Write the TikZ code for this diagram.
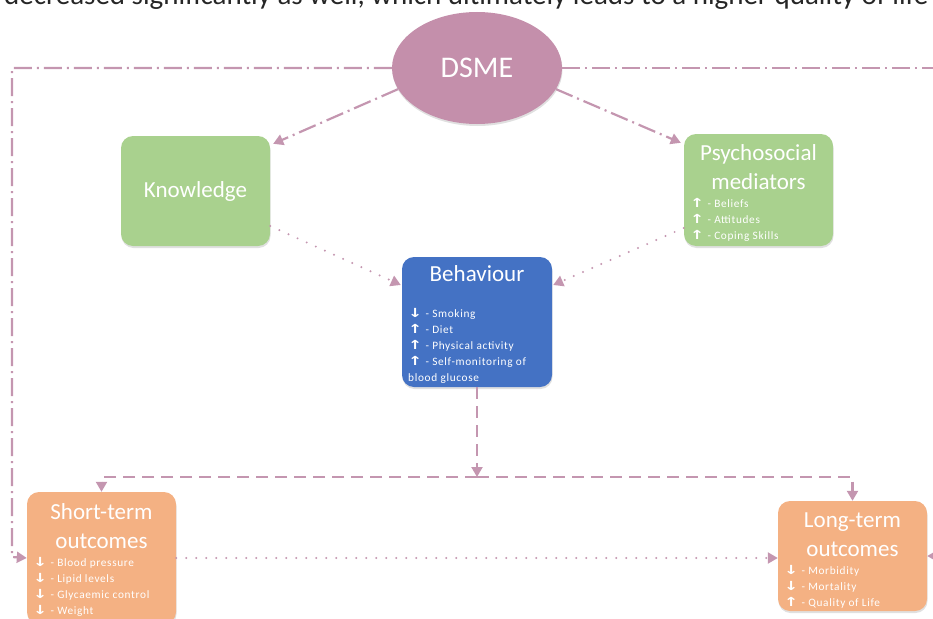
\documentclass[tikz,border=0pt]{standalone}
\usepackage{fontspec}
\usepackage{graphicx}
\setmainfont{Carlito}
\newfontfamily\symfont{DejaVu Sans}
\newfontfamily\itemfont[LetterSpace=6]{Carlito}
\usetikzlibrary{arrows.meta,shapes.geometric,calc,shadows}

\definecolor{conn}{HTML}{C496B0}
\definecolor{dsmefill}{HTML}{C48FAB}
\definecolor{greenbox}{HTML}{A9D18E}
\definecolor{bluebox}{HTML}{4472C4}
\definecolor{orangebox}{HTML}{F4B183}
\definecolor{leadtext}{HTML}{262626}

% wide-headed up/down arrows used in the lists
\newcommand\arrup{\scalebox{1.35}[1]{\symfont\bfseries\fontsize{12.5}{16}\selectfont ↑}}
\newcommand\arrdn{\scalebox{1.35}[1]{\symfont\bfseries\fontsize{12.5}{16}\selectfont ↓}}

\tikzset{
  softshadow/.style={drop shadow={shadow xshift=0.5pt, shadow yshift=-2pt, opacity=0.12, fill=black}},
  box/.style={rounded corners=12pt, minimum width=149pt, minimum height=110pt,
              inner sep=0pt, draw=none, softshadow},
  title/.style={text=white, font=\fontsize{23}{29}\selectfont, inner sep=0pt, align=center},
  items/.style={text=white, font=\itemfont\fontsize{11.3}{16}\selectfont, inner sep=0pt, align=left},
  wire/.style={draw=conn, line width=2.2pt},
  dashdot/.style={wire, dash pattern=on 18pt off 5pt on 2pt off 5pt},
  dotline/.style={wire, line cap=round, dash pattern=on 0pt off 10pt},
  dashline/.style={wire, dash pattern=on 12pt off 7pt},
  tip/.style={-{Triangle[length=10pt,width=11pt,fill=conn]}},
}

\begin{document}
\begin{tikzpicture}[x=1pt,y=-1pt]
\useasboundingbox (0,0) rectangle (933,618);
\clip (0,0) rectangle (933,618);

% running text of the page above the figure
\node[anchor=base west, inner sep=0pt, text=leadtext, font=\fontsize{29}{34}\selectfont]
  (lead) at (4,5) {decreased significantly as well, which ultimately leads to a higher quality of life};

% nodes (list anchors sit on the baseline of their last line)
\node[ellipse, fill=dsmefill, minimum width=170pt, minimum height=112pt, inner sep=0pt,
      text=white, font=\fontsize{30}{36}\selectfont, softshadow] (dsme) at (477,68) {DSME};

\node[box, fill=greenbox, title] (know) at (195.5,191) {Knowledge};

\node[box, fill=greenbox, minimum height=112pt] (psy) at (758.5,190) {};
\node[title, anchor=base] (psyT1) at (758.5,160) {Psychosocial};
\node[title, anchor=base] (psyT2) at (758.5,189) {mediators};
\node[items, anchor=base west] (psyL) at (690,239)
  {\arrup{} - Beliefs\\ \arrup{} - Attitudes\\ \arrup{} - Coping Skills};

\node[box, fill=bluebox, minimum width=150pt, minimum height=130pt] (beh) at (477,322) {};
\node[title, anchor=base] (behT) at (477,281) {Behaviour};
\node[items, anchor=base west] (behL) at (408,381)
  {\arrdn{} - Smoking\\ \arrup{} - Diet\\ \arrup{} - Physical activity\\
   \arrup{} - Self-monitoring of\\ blood glucose};

\node[box, fill=orangebox, minimum height=132pt] (st) at (101.5,558) {};
\node[title, anchor=base] (stT1) at (101.5,519) {Short-term};
\node[title, anchor=base] (stT2) at (101.5,548) {outcomes};
\node[items, anchor=base west] (stL) at (33,614)
  {\arrdn{} - Blood pressure\\ \arrdn{} - Lipid levels\\ \arrdn{} - Glycaemic control\\ \arrdn{} - Weight};

\node[box, fill=orangebox] (lt) at (852.5,556) {};
\node[title, anchor=base] (ltT1) at (852.5,527) {Long-term};
\node[title, anchor=base] (ltT2) at (852.5,556) {outcomes};
\node[items, anchor=base west] (ltL) at (784,606)
  {\arrdn{} - Morbidity\\ \arrdn{} - Mortality\\ \arrup{} - Quality of Life};

% routing points
\coordinate (loopL) at (12,557);
\coordinate (loopR) at (950,556);
\coordinate (split) at (477,477);

% DSME feeds everything
\draw[dashdot, tip] (dsme.west) -| (loopL) -- (st.west);
\draw[dashdot, tip] (dsme.east) -| (loopR) -- (lt.east);
\draw[dashdot, tip] (dsme.195) -- ([shift={(3,8)}]know.north east);
\draw[dashdot, tip] (dsme.-15) -- ([shift={(-3,9)}]psy.north west);

% mediators into behaviour
\draw[dotline, tip] ($(know.east)+(0,35)$) -- ($(beh.west)+(-1,-37)$);
\draw[dotline, tip] ($(psy.west)+(0,38)$) -- ($(beh.east)+(1,-37)$);

% behaviour into outcomes
\draw[dashline, tip] (beh.south) -- (split);
\draw[dashline, tip] (split) -| (st.north);
\draw[dashline, tip] (split) -| (lt.north);

% short-term leads to long-term
\draw[dotline, tip] (st.east) -- (st.east -| lt.west);
\end{tikzpicture}
\end{document}
